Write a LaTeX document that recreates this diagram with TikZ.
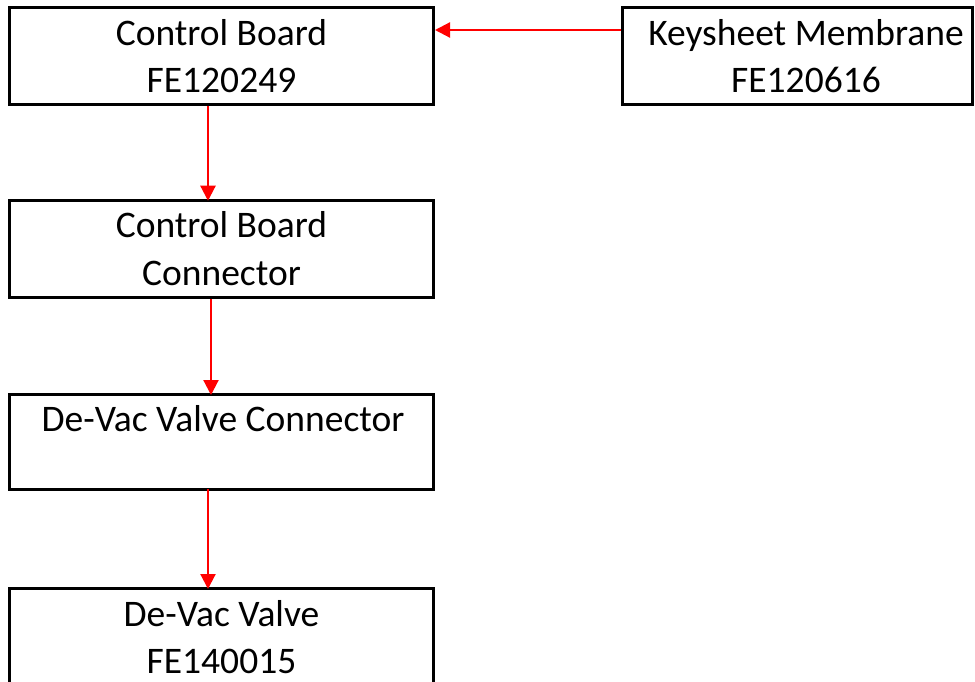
\documentclass[tikz,border=0pt]{standalone}
\usepackage{fontspec}
\setmainfont{Carlito}
\usetikzlibrary{arrows.meta}
\tikzset{
  box/.style={draw=black, line width=3pt, minimum width=424pt, minimum height=97pt,
    inner sep=0pt, align=center, font=\fontsize{37.5}{47.5}\selectfont},
  lbl/.style={inner sep=0pt, align=center, font=\fontsize{37.5}{47.5}\selectfont},
  arr/.style={draw=red, line width=2.2pt, -{Triangle[length=15pt,width=15pt]}}
}
\begin{document}
\begin{tikzpicture}[x=1pt,y=-1pt]
\useasboundingbox (0,0) rectangle (975,682);
\clip (0,0) rectangle (975,682);
\node[box] (cb) at (221.5,56) {Control Board\\FE120249};
\node[box, minimum width=349.5pt] (ks) at (797.25,56) {};
\node[lbl] (kst) at (806,56) {Keysheet Membrane\\FE120616};
\node[box] (cbc) at (221.5,248.75) {Control Board\\Connector};
\node[box, minimum height=95pt] (dvc) at (221.5,442) {};
\node[lbl, anchor=base] (dvct) at (223,431) {De-Vac Valve Connector};
\node[box] (dv) at (221.5,637) {De-Vac Valve\\FE140015};
\draw[arr] (ks.west |- 0,30) -- (cb.east |- 0,30);
\draw[arr] (cb.south -| 208,0) -- ([yshift=-2pt]cbc.north -| 208,0);
\draw[arr] (cbc.south -| 211,0) -- ([yshift=-2pt]dvc.north -| 211,0);
\draw[arr] ([yshift=2pt]dvc.south -| 208,0) -- ([yshift=-2pt]dv.north -| 208,0);
\end{tikzpicture}
\end{document}
